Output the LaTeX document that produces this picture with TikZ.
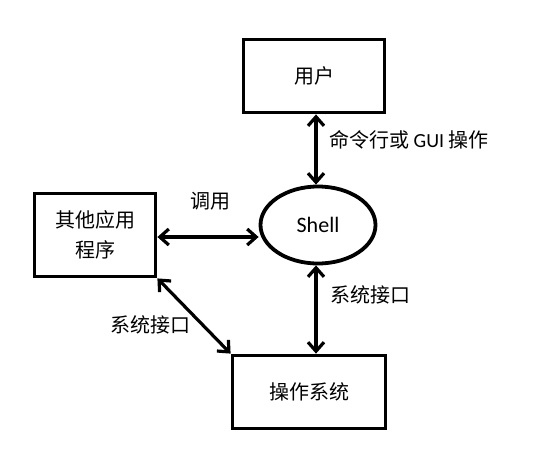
\documentclass[tikz,border=0pt]{standalone}
\usepackage{fontspec}
\setmainfont{Carlito}
\newfontfamily\cjk{Noto Sans CJK SC}
\usepackage{tikz}
\usetikzlibrary{shapes.geometric, arrows.meta}

\begin{document}
\begin{tikzpicture}[x=1pt, y=-1pt,
        box/.style={rectangle, draw, line width=3.8pt, font=\cjk\fontsize{20}{30}\selectfont, align=center},
        link/.style={{Straight Barb[length=9pt,width=16pt]}-{Straight Barb[length=9pt,width=16pt]}, line width=3.2pt},
        lbl/.style={font=\cjk\fontsize{20}{24}\selectfont, inner sep=0pt}]
        \useasboundingbox (0, 0) rectangle (549, 472);

        % boxes
        \node[box, minimum width=141pt, minimum height=73pt] (user) at (314, 76) {用户};
        \node[box, minimum width=121pt, minimum height=83pt] (app) at (95, 235) {其他应用\\程序};
        \node[box, minimum width=153pt, minimum height=73pt] (os) at (309, 392) {操作系统};
        \node[ellipse, draw, line width=3.8pt, minimum width=115pt, minimum height=77pt,
              font=\fontsize{22}{24}\selectfont] (shell) at (318, 225) {Shell};

        % links
        \draw[link] (user.south -| 316, 0) -- (shell.north -| 316, 0);
        \draw[link] (app.east |- 0, 237) -- (shell.west |- 0, 237);
        \draw[link] (shell.south -| 316, 0) -- (os.north -| 316, 0);
        \draw[link] (app.south east) -- (os.north west);

        % labels
        \node[lbl, anchor=west] (l1) at (329, 140) {命令行或\ {\rmfamily GUI}\ 操作};
        \node[lbl] (l2) at (210, 201) {调用};
        \node[lbl, anchor=west] (l3) at (330, 295) {系统接口};
        \node[lbl] (l4) at (150, 325) {系统接口};

    \end{tikzpicture}
\end{document}
